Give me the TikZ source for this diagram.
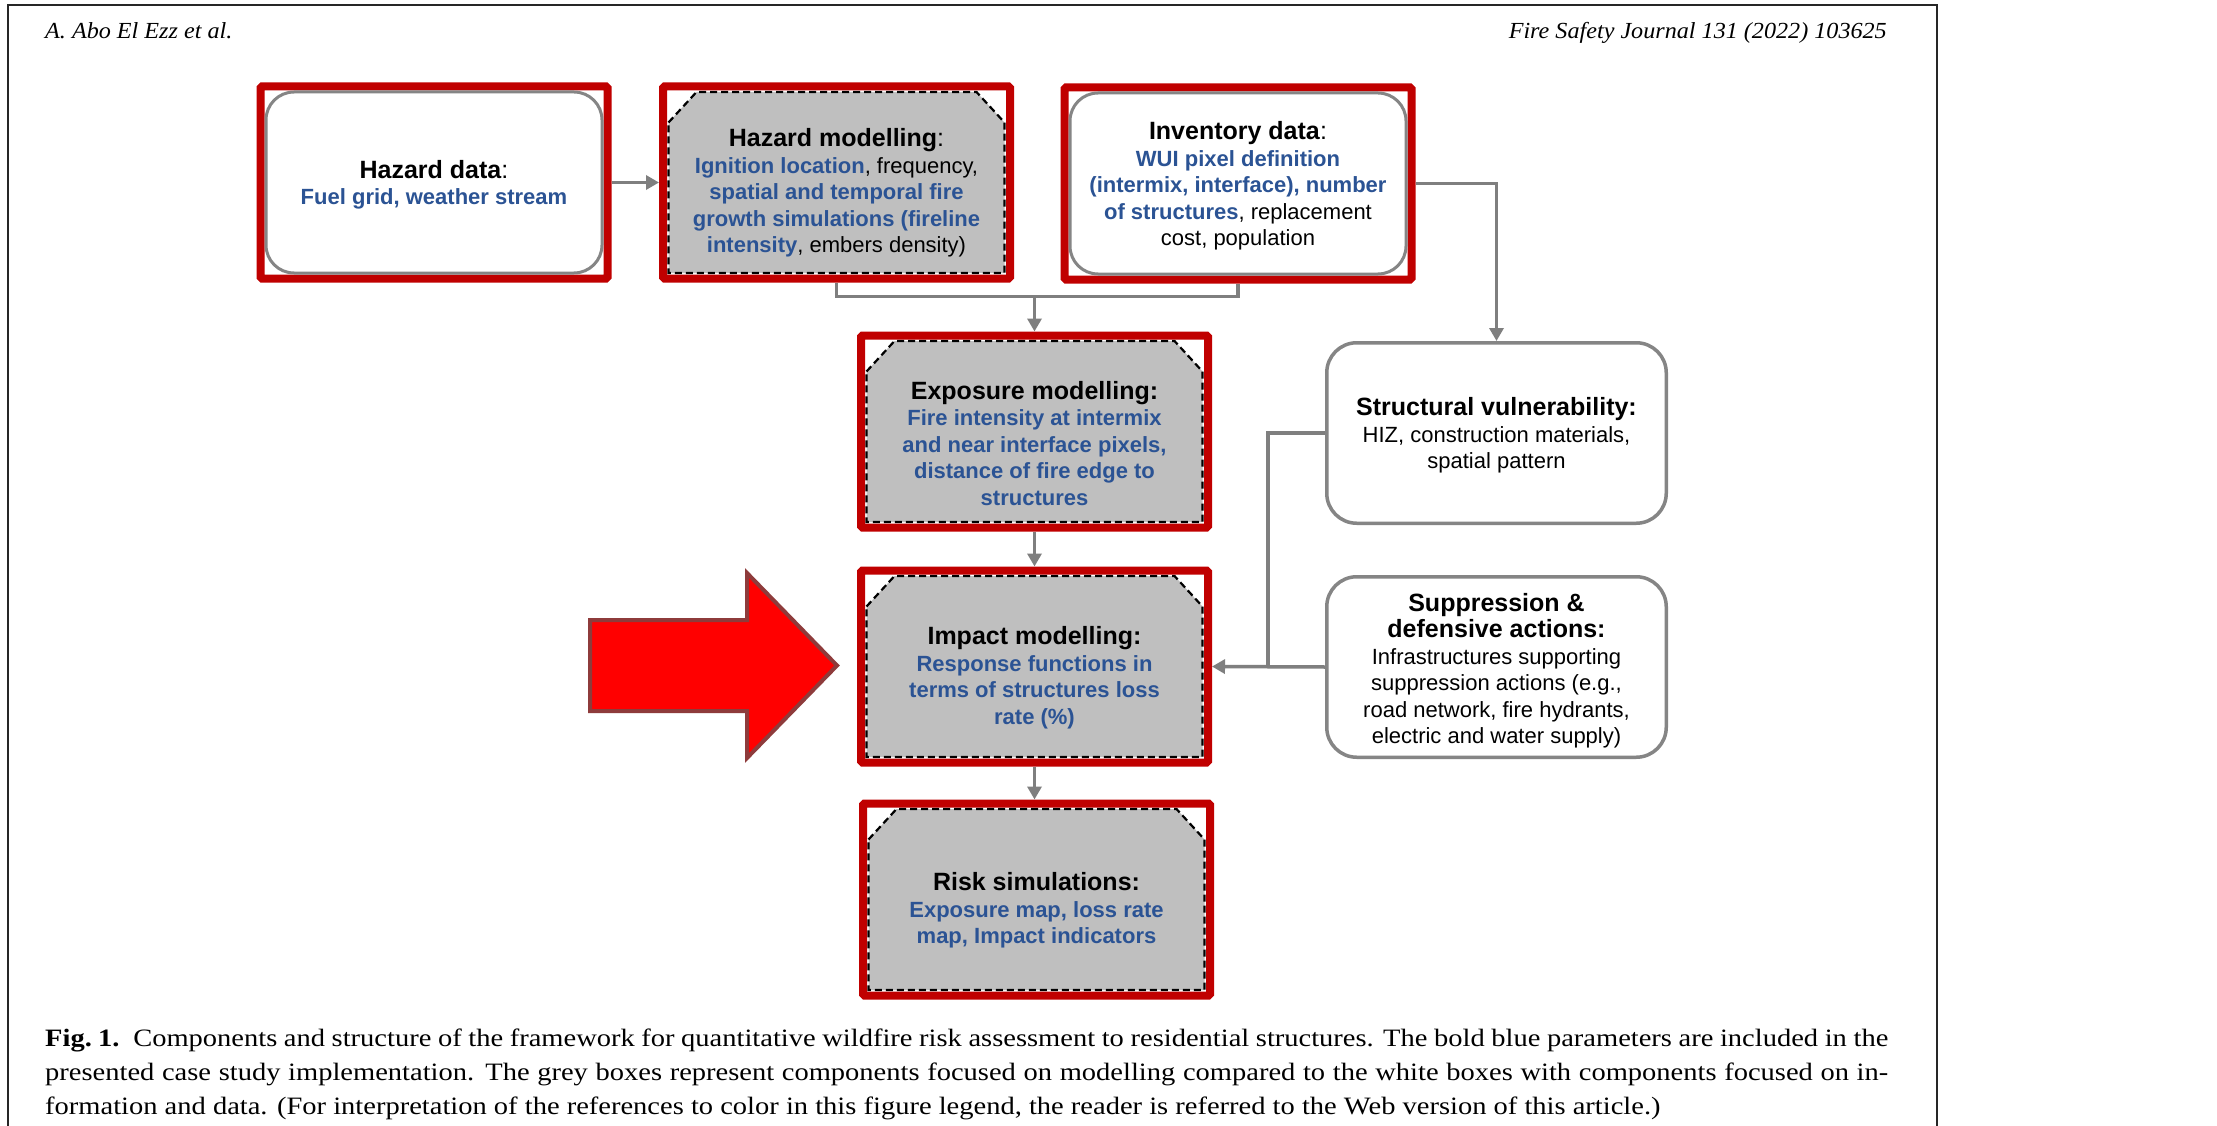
\documentclass[tikz,border=0pt]{standalone}
\usepackage{fontspec}
\setmainfont{Liberation Serif}
\newfontfamily\diagfont{Liberation Sans}
\newfontfamily\capfont{Liberation Serif}[FakeStretch=1.14]
\newfontfamily\hdrfont{Liberation Serif}[FakeStretch=1.05]
\usetikzlibrary{arrows.meta,calc}
\definecolor{framered}{HTML}{C00000}
\definecolor{modgrey}{HTML}{BFBFBF}
\definecolor{conngrey}{HTML}{7F7F7F}
\definecolor{boxgrey}{HTML}{858585}
\definecolor{txtblue}{HTML}{2B5394}
\definecolor{arrowred}{HTML}{FF0000}
\definecolor{arrowedge}{HTML}{8E3B3B}
\newcommand{\bl}[1]{\textcolor{txtblue}{\bfseries #1}}
\newcommand{\ttl}[1]{{\fontsize{25}{26.5}\selectfont\bfseries #1}}
\newcommand{\ttlc}[1]{{\fontsize{25}{26.5}\selectfont\textbf{#1}:}}
\tikzset{
  redframe/.style={draw=framered, line width=8pt, minimum width=347pt, minimum height=192pt, inner sep=0pt, rounded corners=1.5pt},
  modshape/.style={fill=modgrey, draw=black, line width=2.2pt, dash pattern=on 7pt off 4pt},
  databorder/.style={draw=boxgrey, line width=3pt, fill=white},
  infobox/.style={draw=boxgrey, line width=3.5pt, rounded corners=30pt, minimum width=339.5pt, minimum height=180.5pt, inner sep=0pt, fill=white},
  txt/.style={align=center, inner sep=0pt, font=\diagfont\fontsize{22}{26.5}\selectfont},
  conn/.style={draw=conngrey, line width=3.5pt},
  arr/.style={-{Triangle[width=14pt,length=13pt]}},
  bigarrow/.style={fill=arrowred, draw=arrowedge, line width=4pt, line join=miter},
  capline/.style={anchor=base west, inner sep=0pt, font=\capfont\fontsize{25}{34}\selectfont},
  hdr/.style={inner sep=0pt, font=\hdrfont\itshape\fontsize{23}{28}\selectfont},
  pageframe/.style={draw=black!85, line width=2pt}
}
\newcommand{\modbox}[3]{%
  \begin{scope}[shift={(#2,#3)}]
    \draw[modshape] (-168,-60) -- (-140,-90.5) -- (140,-90.5) -- (168,-60) -- (168,90.5) -- (-168,90.5) -- cycle;
  \end{scope}
  \node[redframe] (#1) at (#2,#3) {};
}
\newcommand{\databox}[3]{%
  \node[redframe] (#1) at (#2,#3) {};
  \draw[databorder, rounded corners=28pt] ($(#1.north west)+(9.5,9.5)$) rectangle ($(#1.south east)+(-9.5,-9.5)$);
}
\begin{document}
\begin{tikzpicture}[x=1pt,y=-1pt]
\useasboundingbox (0,0) rectangle (2217,1126);
\fill[white] (0,0) rectangle (2217,1126);
% page frame
\draw[pageframe] (8,1126) -- (8,5) -- (1937,5) -- (1937,1126);
% header
\node[hdr, anchor=base west] (hdrL) at (45,39) {A. Abo El Ezz et al.};
\node[hdr, anchor=base east] (hdrR) at (1887,39) {Fire Safety Journal 131 (2022) 103625};

% boxes
\databox{hd}{434}{182.5}
\modbox{hm}{836.5}{182.5}
\databox{inv}{1238}{183.5}
\modbox{exp}{1034.5}{431.5}
\modbox{imp}{1034.5}{666.5}
\modbox{risk}{1036.5}{899.5}
\node[infobox] (sv) at (1496.5,433) {};
\node[infobox] (sup) at (1496.5,667) {};

% texts
\node[txt] (hd-t) at (434,185) {\ttlc{Hazard data}\\ \bl{Fuel grid, weather stream}};
\node[txt] (hm-t) at (836.5,193) {\ttlc{Hazard modelling}\\ \bl{Ignition location}, frequency,\\ \bl{spatial and temporal fire}\\ \bl{growth simulations (fireline}\\ \bl{intensity}, embers density)};
\node[txt] (inv-t) at (1238,186) {\ttlc{Inventory data}\\ \bl{WUI pixel definition}\\ \bl{(intermix, interface), number}\\ \bl{of structures}, replacement\\ cost, population};
\node[txt] (exp-t) at (1034.5,443.5) {\ttl{Exposure modelling:}\\ \bl{Fire intensity at intermix}\\ \bl{and near interface pixels,}\\ \bl{distance of fire edge to}\\ \bl{structures}};
\node[txt] (imp-t) at (1034.5,677.5) {\ttl{Impact modelling:}\\ \bl{Response functions in}\\ \bl{terms of structures loss}\\ \bl{rate (\%)}};
\node[txt] (risk-t) at (1036.5,910.5) {\ttl{Risk simulations:}\\ \bl{Exposure map, loss rate}\\ \bl{map, Impact indicators}};
\node[txt] (sv-t) at (1496.5,435.5) {\ttl{Structural vulnerability:}\\ HIZ, construction materials,\\ spatial pattern};
\node[txt] (sup-t) at (1496.5,670.5) {\ttl{Suppression \&}\\ \ttl{defensive actions:}\\ Infrastructures supporting\\ suppression actions (e.g.,\\ road network, fire hydrants,\\ electric and water supply)};

% connectors
\coordinate (jn) at ($(exp.north)+(0,-35)$);
\coordinate (jv) at ($(imp.east)+(56,0)$);
\draw[conn, arr] (hd.east) -- (hm.west);
\draw[conn] (hm.south) |- (jn) -| (inv.south);
\draw[conn, arr] (jn) -- (exp.north);
\draw[conn, arr] (inv.east) -| (sv.north);
\draw[conn, arr] (exp.south) -- (imp.north);
\draw[conn, arr] (imp.south) -- (imp.south |- risk.north);
\draw[conn] (sv.west) -| (jv);
\draw[conn, arr] (sup.west) -- (imp.east);

% big red arrow
\draw[bigarrow] (590,620) -- (747,620) -- (747,573) -- (837,665.5) -- (747,758) -- (747,711) -- (590,711) -- cycle;

% caption
\node[capline] (cap1) at (45,1046) {\hbox to 1843pt{\textbf{Fig.\kern0.25em1.}\hspace{0.55em}Components and structure of the framework for quantitative wildfire risk assessment to residential structures. The bold blue parameters are included in the}};
\node[capline] (cap2) at (45,1080) {\hbox to 1843pt{presented case study implementation. The grey boxes represent components focused on modelling compared to the white boxes with components focused on in-}};
\node[capline] (cap3) at (45,1114) {formation and data. (For interpretation of the references to color in this figure legend, the reader is referred to the Web version of this article.)};
\end{tikzpicture}
\end{document}
